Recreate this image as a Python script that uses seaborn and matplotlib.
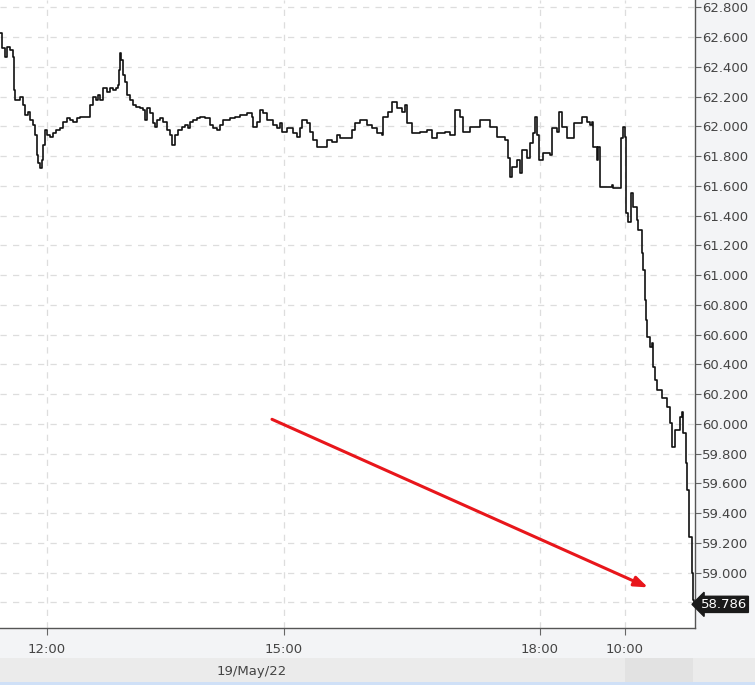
import numpy as np
import pandas as pd
import seaborn as sns
import matplotlib.pyplot as plt

# bar index (session-compressed time axis) and price
bars = [0, 2, 5, 7, 10, 13, 14, 15, 20, 23, 25, 28, 30, 33, 35, 37, 38, 40, 42, 43,
        45, 47, 50, 53, 56, 60, 63, 67, 70, 73, 77, 80, 88, 90, 93, 96, 98, 100, 103, 107,
        110, 113, 116, 118, 119, 120, 121, 123, 125, 127, 130, 133, 136, 140, 143, 145, 147, 150, 153, 155,
        157, 160, 163, 167, 170, 172, 175, 178, 182, 185, 188, 190, 193, 197, 200, 205, 210, 213, 217, 220,
        223, 227, 230, 235, 240, 247, 252, 253, 257, 260, 263, 267, 273, 277, 280, 282, 287, 293, 297, 300,
        302, 307, 310, 313, 317, 322, 327, 332, 337, 340, 347, 352, 355, 360, 367, 372, 377, 382, 383, 388,
        392, 397, 402, 405, 407, 412, 420, 427, 432, 437, 445, 450, 455, 460, 463, 470, 480, 485, 490, 497,
        505, 508, 510, 512, 515, 517, 520, 522, 527, 530, 533, 535, 537, 539, 543, 550, 552, 557, 559, 562,
        567, 572, 574, 582, 587, 590, 592, 593, 597, 598, 600, 607, 612, 613, 620, 621, 623, 625, 626, 628,
        631, 633, 637, 638, 642, 643, 645, 646, 647, 650, 652, 653, 655, 657, 662, 667, 670, 672, 675, 680,
        682, 683, 686, 687, 689, 692, 693, 694]
price = [62.627, 62.526, 62.466, 62.533, 62.513, 62.466, 62.244, 62.177, 62.197, 62.143, 62.076, 62.096, 62.042, 62.009, 61.941, 61.807, 61.753, 61.720, 61.773, 61.874,
         61.975, 61.941, 61.928, 61.955, 61.975, 61.988, 62.029, 62.056, 62.042, 62.029, 62.056, 62.062, 62.062, 62.143, 62.197, 62.177, 62.210, 62.177, 62.257, 62.230,
         62.257, 62.244, 62.257, 62.278, 62.378, 62.493, 62.446, 62.345, 62.298, 62.210, 62.177, 62.143, 62.130, 62.123, 62.109, 62.042, 62.123, 62.089, 62.022, 61.995,
         62.042, 62.056, 62.029, 61.975, 61.941, 61.874, 61.941, 61.975, 61.995, 62.009, 61.988, 62.029, 62.042, 62.056, 62.062, 62.056, 62.009, 61.988, 61.975, 62.009,
         62.042, 62.042, 62.056, 62.062, 62.076, 62.089, 62.062, 61.995, 62.029, 62.109, 62.089, 62.042, 62.009, 61.988, 62.022, 61.962, 61.988, 61.955, 61.928, 61.988,
         62.042, 62.022, 61.962, 61.908, 61.861, 61.861, 61.908, 61.894, 61.941, 61.921, 61.921, 61.975, 62.022, 62.042, 62.009, 61.988, 61.955, 61.941, 62.062, 62.096,
         62.163, 62.123, 62.096, 62.143, 62.022, 61.955, 61.962, 61.975, 61.921, 61.955, 61.962, 61.941, 62.109, 62.062, 61.962, 61.995, 62.042, 62.042, 61.995, 61.928,
         61.908, 61.787, 61.659, 61.726, 61.726, 61.773, 61.686, 61.841, 61.787, 61.888, 61.955, 62.062, 61.941, 61.773, 61.820, 61.807, 61.988, 61.962, 62.096, 61.995,
         61.921, 61.921, 62.022, 62.062, 62.029, 62.009, 62.029, 61.861, 61.773, 61.861, 61.592, 61.592, 61.605, 61.585, 61.585, 61.921, 61.995, 61.928, 61.417, 61.357,
         61.551, 61.457, 61.370, 61.303, 61.148, 61.034, 60.832, 60.698, 60.583, 60.516, 60.543, 60.382, 60.294, 60.227, 60.173, 60.113, 60.005, 59.844, 59.958, 60.046,
         60.079, 59.938, 59.736, 59.555, 59.239, 58.997, 58.815, 58.786]

tick_bars = [47, 284, 540, 625]
tick_labels = ["12:00", "15:00", "18:00", "10:00"]
yticks = np.round(np.arange(58.8, 62.81, 0.2), 1)
last_price = 58.786
date_label = "19/May/22"
arrow_start = (272, 60.03)
arrow_end = (648, 58.90)

df = pd.DataFrame({"bar": bars, "price": price})

sns.set_style("white")
plt.rcParams["font.family"] = ["DejaVu Sans"]

fig = plt.figure(figsize=(7.55, 6.85), dpi=100, facecolor="#f3f4f6")
ax = fig.add_axes([0.0, 0.0832, 0.9205, 0.9168])
ax.set_facecolor("white")

# bottom date band
fig.patches.append(plt.Rectangle((0, 3 / 685), 1, 24 / 685, transform=fig.transFigure,
                                 facecolor="#ebebeb", edgecolor="none", zorder=0))
fig.patches.append(plt.Rectangle((625 / 755, 3 / 685), 68 / 755, 24 / 685, transform=fig.transFigure,
                                 facecolor="#e2e2e2", edgecolor="none", zorder=0))
fig.patches.append(plt.Rectangle((0, 0), 1, 3 / 685, transform=fig.transFigure,
                                 facecolor="#cfe0f7", edgecolor="none", zorder=0))
fig.text(252 / 755, 14 / 685, date_label, ha="center", va="center", fontsize=9.5, color="#444444")

sns.lineplot(data=df, x="bar", y="price", ax=ax, estimator=None, sort=False,
             color="#111111", linewidth=1.2, drawstyle="steps-post")

ax.set_xlim(0, 695)
ax.set_ylim(58.627, 62.849)
ax.yaxis.tick_right()
ax.set_yticks(yticks)
ax.set_yticklabels([f"{v:.3f}" for v in yticks])
ax.set_xticks(tick_bars)
ax.set_xticklabels(tick_labels)
ax.set_xlabel("")
ax.set_ylabel("")
ax.tick_params(axis="y", right=True, length=4, width=0.8, color="#666666",
               labelsize=9.5, labelcolor="#444444", pad=1)
ax.tick_params(axis="x", bottom=True, length=5, width=0.8, color="#666666",
               labelsize=9.5, labelcolor="#444444", pad=6)

ax.grid(True, color="#dddddd", linestyle=(0, (5, 5)), linewidth=0.9)
for s in ["top", "left"]:
    ax.spines[s].set_visible(False)
for s in ["right", "bottom"]:
    ax.spines[s].set_color("#555555")
    ax.spines[s].set_linewidth(1.0)

ax.annotate("", xy=arrow_end, xytext=arrow_start,
            arrowprops=dict(arrowstyle="-|>,head_length=0.8,head_width=0.3",
                            color="#e8161b", lw=2.2, shrinkA=0, shrinkB=0))

ax.annotate(f"{last_price:.3f}", xy=(1.0, last_price), xycoords=("axes fraction", "data"),
            xytext=(4, 0), textcoords="offset points", ha="left", va="center",
            fontsize=9.5, color="white",
            bbox=dict(boxstyle="larrow,pad=0.12", fc="#1a1a1a", ec="#1a1a1a"))

fig.savefig("out.png", dpi=100, facecolor=fig.get_facecolor())
